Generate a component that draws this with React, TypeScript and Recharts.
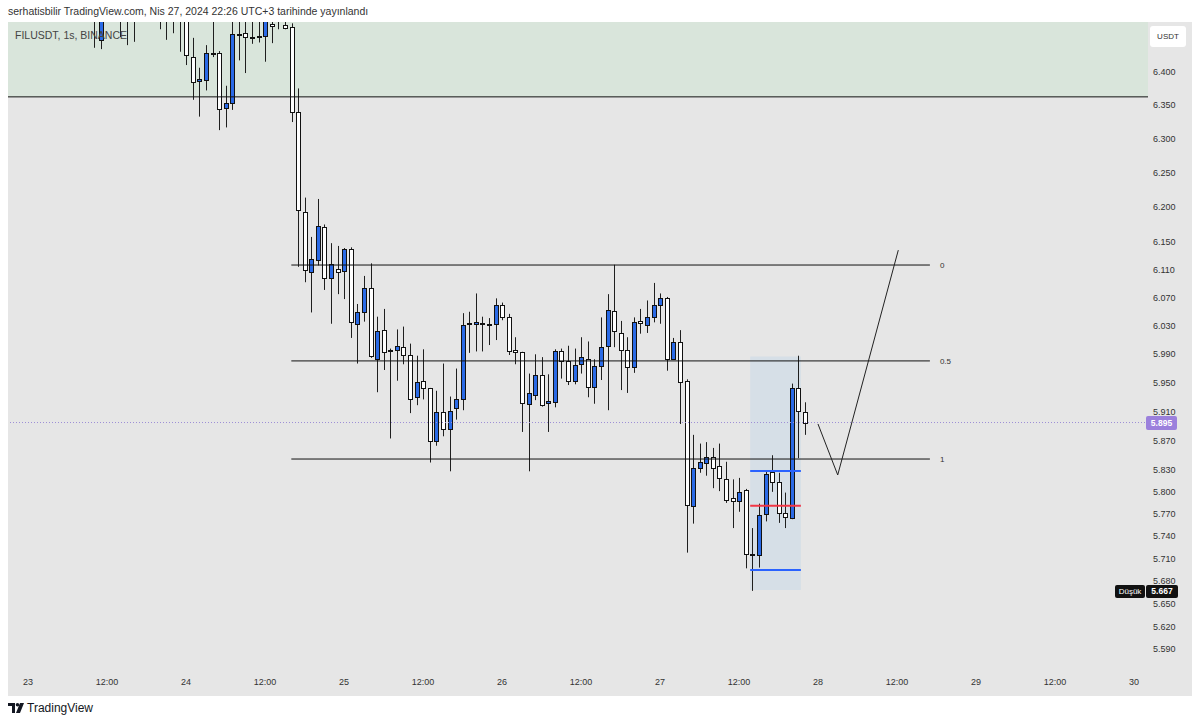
import React from 'react';
import { ComposedChart, Bar, XAxis, YAxis, ReferenceLine, ReferenceArea } from 'recharts';

// hours since 23 Apr 00:00 (hourly candles)
const hours = [
  10, 11, 12, 13, 14, 15, 16, 17, 18, 19, 20, 21, 22, 23, 24, 25, 26, 27, 28, 29,
  30, 31, 32, 33, 34, 35, 36, 37, 38, 39, 40, 41, 42, 43, 44, 45, 46, 47, 48, 49,
  50, 51, 52, 53, 54, 55, 56, 57, 58, 59, 60, 61, 62, 63, 64, 65, 66, 67, 68, 69,
  70, 71, 72, 73, 74, 75, 76, 77, 78, 79, 80, 81, 82, 83, 84, 85, 86, 87, 88, 89,
  90, 91, 92, 93, 94, 95, 96, 97, 98, 99, 100, 101, 102, 103, 104, 105, 106, 107, 108, 109,
  110, 111, 112, 113, 114, 115, 116, 117, 118,
];
const opens = [
  6.52, 6.448, 6.53, 6.51, 6.5, 6.49, 6.5, 6.51, 6.53, 6.52, 6.505, 6.495, 6.5, 6.505, 6.495, 6.422, 6.386, 6.388, 6.4265, 6.428,
  6.346, 6.354, 6.456, 6.458, 6.451, 6.4535, 6.454, 6.472, 6.49, 6.47, 6.467, 6.34, 6.193, 6.106, 6.124, 6.171, 6.098, 6.111, 6.108, 6.139,
  6.033, 6.05, 6.084, 5.984, 6.024, 5.9967, 5.996, 6.0, 5.989, 5.93, 5.953, 5.943, 5.87, 5.91, 5.886, 5.915, 5.927, 6.032, 6.033, 6.034,
  6.033, 6.033, 6.059, 6.042, 5.996, 5.993, 5.921, 5.933, 5.961, 5.922, 5.924, 5.995, 5.98, 5.953, 5.976, 5.984, 5.944, 5.973, 6.002, 6.051,
  6.02, 5.996, 5.972, 6.037, 6.031, 6.042, 6.06, 6.069, 5.984, 6.007, 5.953, 5.781, 5.833, 5.84, 5.847, 5.835, 5.818, 5.791, 5.787, 5.802,
  5.7155, 5.715, 5.77, 5.827, 5.813, 5.771, 5.764, 5.943, 5.909,
];
const highs = [
  6.535, 6.52, 6.545, 6.53, 6.52, 6.505, 6.515, 6.54, 6.55, 6.53, 6.52, 6.51, 6.515, 6.515, 6.505, 6.451, 6.406, 6.44, 6.48, 6.431,
  6.379, 6.478, 6.478, 6.478, 6.478, 6.478, 6.495, 6.49, 6.5, 6.48, 6.473, 6.375, 6.214, 6.157, 6.212, 6.175, 6.148, 6.144, 6.141, 6.142,
  6.061, 6.101, 6.119, 6.043, 6.054, 5.998, 6.025, 6.029, 6.005, 5.988, 5.997, 5.943, 5.939, 5.977, 5.931, 5.97, 6.048, 6.05, 6.076, 6.043,
  6.041, 6.069, 6.063, 6.047, 6.014, 5.9935, 5.963, 5.99, 5.986, 5.962, 5.997, 5.998, 6.002, 5.998, 6.014, 6.008, 5.983, 6.042, 6.075, 6.117,
  6.037, 6.014, 6.042, 6.054, 6.066, 6.091, 6.076, 6.071, 6.013, 6.024, 5.955, 5.878, 5.866, 5.868, 5.86, 5.866, 5.841, 5.817, 5.819, 5.804,
  5.751, 5.784, 5.829, 5.85, 5.826, 5.799, 5.949, 5.988, 5.923,
];
const lows = [
  6.436, 6.434, 6.49, 6.488, 6.452, 6.44, 6.445, 6.495, 6.5, 6.49, 6.464, 6.448, 6.458, 6.43, 6.41, 6.358, 6.333, 6.372, 6.422, 6.313,
  6.317, 6.343, 6.417, 6.398, 6.442, 6.444, 6.415, 6.443, 6.464, 6.464, 6.325, 6.114, 6.092, 6.049, 6.116, 6.081, 6.033, 6.075, 6.068, 6.013,
  5.977, 6.036, 5.985, 5.937, 5.968, 5.873, 5.953, 5.976, 5.908, 5.919, 5.927, 5.84, 5.863, 5.876, 5.828, 5.899, 5.912, 5.992, 5.994, 5.994,
  6.003, 6.01, 6.038, 5.989, 5.976, 5.882, 5.828, 5.926, 5.917, 5.882, 5.916, 5.956, 5.947, 5.948, 5.963, 5.93, 5.921, 5.954, 5.912, 6.0,
  5.94, 5.936, 5.964, 6.019, 6.02, 6.035, 6.033, 5.967, 5.982, 5.893, 5.718, 5.757, 5.826, 5.822, 5.805, 5.801, 5.785, 5.751, 5.773, 5.697,
  5.667, 5.698, 5.76, 5.8, 5.758, 5.751, 5.763, 5.846, 5.878,
];
const closes = [
  6.5, 6.5, 6.51, 6.495, 6.49, 6.5, 6.51, 6.53, 6.52, 6.505, 6.495, 6.5, 6.505, 6.495, 6.425, 6.385, 6.389, 6.428, 6.428, 6.345,
  6.354, 6.457, 6.4575, 6.452, 6.4525, 6.4525, 6.485, 6.469, 6.485, 6.466, 6.34, 6.196, 6.109, 6.125, 6.173, 6.098, 6.118, 6.107, 6.14, 6.036,
  6.05, 6.084, 5.988, 6.023, 5.993, 5.9956, 6.002, 5.989, 5.928, 5.951, 5.943, 5.87, 5.91, 5.886, 5.911, 5.927, 6.031, 6.0335, 6.036, 6.033,
  6.0325, 6.06, 6.043, 5.995, 5.993, 5.922, 5.936, 5.961, 5.919, 5.925, 5.995, 5.98, 5.952, 5.975, 5.986, 5.944, 5.973, 6.0, 6.052, 6.023,
  5.996, 5.972, 6.035, 6.034, 6.042, 6.06, 6.069, 5.984, 6.007, 5.951, 5.782, 5.833, 5.841, 5.847, 5.833, 5.819, 5.789, 5.788, 5.8, 5.716,
  5.7145, 5.769, 5.825, 5.813, 5.772, 5.766, 5.943, 5.911, 5.895,
];

const priceTicks = [
  6.4, 6.35, 6.3, 6.25, 6.2, 6.15, 6.11, 6.07, 6.03, 5.99, 5.95, 5.91, 5.87, 5.83, 5.8, 5.77, 5.74, 5.71,
  5.68, 5.65, 5.62, 5.59,
];
const timeTicks = [0, 12, 24, 36, 48, 60, 72, 84, 96, 108, 120, 132, 144, 156, 168];
const dayNames = ['23', '24', '25', '26', '27', '28', '29', '30'];

// drawings
const zoneLevel = 6.3624;
const fibLevels = [6.1166, 5.9807, 5.8448];
const fibNames = ['0', '0.5', '1'];
const fibHours = [40, 137];
const boxHours = [109.7, 117.4];
const boxPrices = [5.668, 5.987];
const boxLines = [5.8284, 5.781, 5.6948];
const boxLineColors = ['#2962ff', '#f23645', '#2962ff'];
const pathHours = [120, 123, 132.2];
const pathPrices = [5.893, 5.823, 6.138];
const lastPrice = 5.895;

const candles = hours.map((t, i) => ({
  t,
  open: opens[i],
  high: highs[i],
  low: lows[i],
  close: closes[i],
}));

const BLUE = '#2a6ae6';
const FONT = '"Liberation Sans", Arial, sans-serif';

const Wick = (props: any) => {
  const { x, y, width, height } = props;
  if (x == null || y == null) return null;
  const cx = Math.round(x + width / 2) + 0.5;
  const top = Math.min(y, y + height);
  const bottom = Math.max(y, y + height);
  return <line x1={cx} x2={cx} y1={top} y2={bottom} stroke="#1f1f1f" strokeWidth={1} />;
};

const Body = (props: any) => {
  const { x, y, width, height, payload } = props;
  if (x == null || y == null) return null;
  const cx = Math.round(x + width / 2) + 0.5;
  const top = Math.round(Math.min(y, y + height)) + 0.5;
  let bottom = Math.round(Math.max(y, y + height)) + 0.5;
  if (bottom - top < 1) bottom = top + 1;
  const up = payload.close >= payload.open;
  return (
    <rect x={cx - 2} y={top} width={4} height={bottom - top} fill={up ? BLUE : '#ffffff'} stroke="#111" strokeWidth={1} />
  );
};

const timeLabel = (v: number) => (v % 24 === 0 ? dayNames[v / 24] : '12:00');

export default function App() {
  return (
    <div style={{ position: 'absolute', left: 0, top: 0, width: 1200, height: 724, background: '#fff', fontFamily: FONT }}>
      <div style={{ position: 'absolute', left: 8, top: 5, fontSize: 10.5, color: '#333' }}>
        serhatisbilir TradingView.com, Nis 27, 2024 22:26 UTC+3 tarihinde yayınlandı
      </div>
      <div style={{ position: 'absolute', left: 8, top: 22, width: 1184, height: 674, background: '#e6e6e6' }}>
        <ComposedChart
          width={1184}
          height={674}
          data={candles}
          margin={{ top: 0, right: 0, bottom: 0, left: 0 }}
          barGap={-5}
        >
          <XAxis
            dataKey="t"
            type="number"
            domain={[-3.038, 170.13]}
            allowDataOverflow
            ticks={timeTicks}
            interval={0}
            tickFormatter={timeLabel}
            height={28}
            axisLine={false}
            tickLine={false}
            tickSize={0}
            tickMargin={11}
            tick={{ fontSize: 9, fill: '#333', fontFamily: FONT }}
          />
          <YAxis
            orientation="right"
            scale="log"
            domain={[5.5655, 6.475]}
            allowDataOverflow
            ticks={priceTicks}
            interval={0}
            width={44}
            axisLine={false}
            tickLine={false}
            tickSize={0}
            tickMargin={5}
            tickFormatter={(v: number) => v.toFixed(3)}
            tick={{ fontSize: 9, fill: '#333', fontFamily: FONT, textAnchor: 'start' }}
          />
          <ReferenceArea y1={zoneLevel} y2={6.475} fill="#d9e5db" fillOpacity={1} stroke="none" ifOverflow="hidden" />
          <ReferenceLine y={zoneLevel} stroke="#111" strokeWidth={1} />
          <ReferenceLine y={lastPrice} stroke="#9d8fd6" strokeDasharray="1 2" />
          <ReferenceArea
            x1={boxHours[0]}
            x2={boxHours[1]}
            y1={boxPrices[0]}
            y2={boxPrices[1]}
            fill="#d2dde6"
            fillOpacity={0.85}
            stroke="none"
          />
          {fibLevels.map((lvl, i) => (
            <ReferenceLine
              key={fibNames[i]}
              segment={[
                { x: fibHours[0], y: lvl },
                { x: fibHours[1], y: lvl },
              ]}
              stroke="#111"
              strokeWidth={1}
              label={{ value: fibNames[i], position: 'right', fontSize: 8, fill: '#333', offset: 10 }}
            />
          ))}
          <Bar dataKey={(d: any) => [d.low, d.high]} barSize={5} shape={<Wick />} isAnimationActive={false} />
          <Bar dataKey={(d: any) => [Math.min(d.open, d.close), Math.max(d.open, d.close)]} barSize={5} shape={<Body />} isAnimationActive={false} />
          {boxLines.map((lvl, i) => (
            <ReferenceLine
              key={'b' + i}
              segment={[
                { x: boxHours[0], y: lvl },
                { x: boxHours[1], y: lvl },
              ]}
              stroke={boxLineColors[i]}
              strokeWidth={2}
            />
          ))}
          {pathHours.slice(1).map((h, i) => (
            <ReferenceLine
              key={'p' + i}
              segment={[
                { x: pathHours[i], y: pathPrices[i] },
                { x: h, y: pathPrices[i + 1] },
              ]}
              stroke="#222"
              strokeWidth={1}
            />
          ))}
        </ComposedChart>
        <div style={{ position: 'absolute', left: 7, top: 7, fontSize: 10.5, color: '#444' }}>FILUSDT, 1s, BINANCE</div>
        <div
          style={{
            position: 'absolute', left: 1142, top: 4, width: 36, height: 21, background: '#fff', borderRadius: 3,
            fontSize: 8, color: '#333', textAlign: 'center', lineHeight: '21px',
          }}
        >
          USDT
        </div>
        <div
          style={{
            position: 'absolute', left: 1138, top: 394, width: 31, height: 14, background: '#9b80dc', borderRadius: 2,
            fontSize: 8.5, fontWeight: 'bold', color: '#fff', textAlign: 'center', lineHeight: '14px',
          }}
        >
          5.895
        </div>
        <div
          style={{
            position: 'absolute', left: 1107, top: 563, width: 30, height: 13, background: '#111', borderRadius: 2,
            fontSize: 8, color: '#fff', textAlign: 'center', lineHeight: '13px',
          }}
        >
          Düşük
        </div>
        <div
          style={{
            position: 'absolute', left: 1138, top: 563, width: 32, height: 13, background: '#111', borderRadius: 2,
            fontSize: 8.5, fontWeight: 'bold', color: '#fff', textAlign: 'center', lineHeight: '13px',
          }}
        >
          5.667
        </div>
      </div>
      <svg style={{ position: 'absolute', left: 8, top: 703 }} width={18} height={11}>
        <path d="M0 0 H7 V10 H4 V3 H0 Z" fill="#131722" />
        <circle cx={9.5} cy={1.8} r={1.8} fill="#131722" />
        <path d="M12 0 H16 L12 10 H8 Z" fill="#131722" />
      </svg>
      <div style={{ position: 'absolute', left: 27, top: 701, fontSize: 12, color: '#131722' }}>TradingView</div>
    </div>
  );
}
